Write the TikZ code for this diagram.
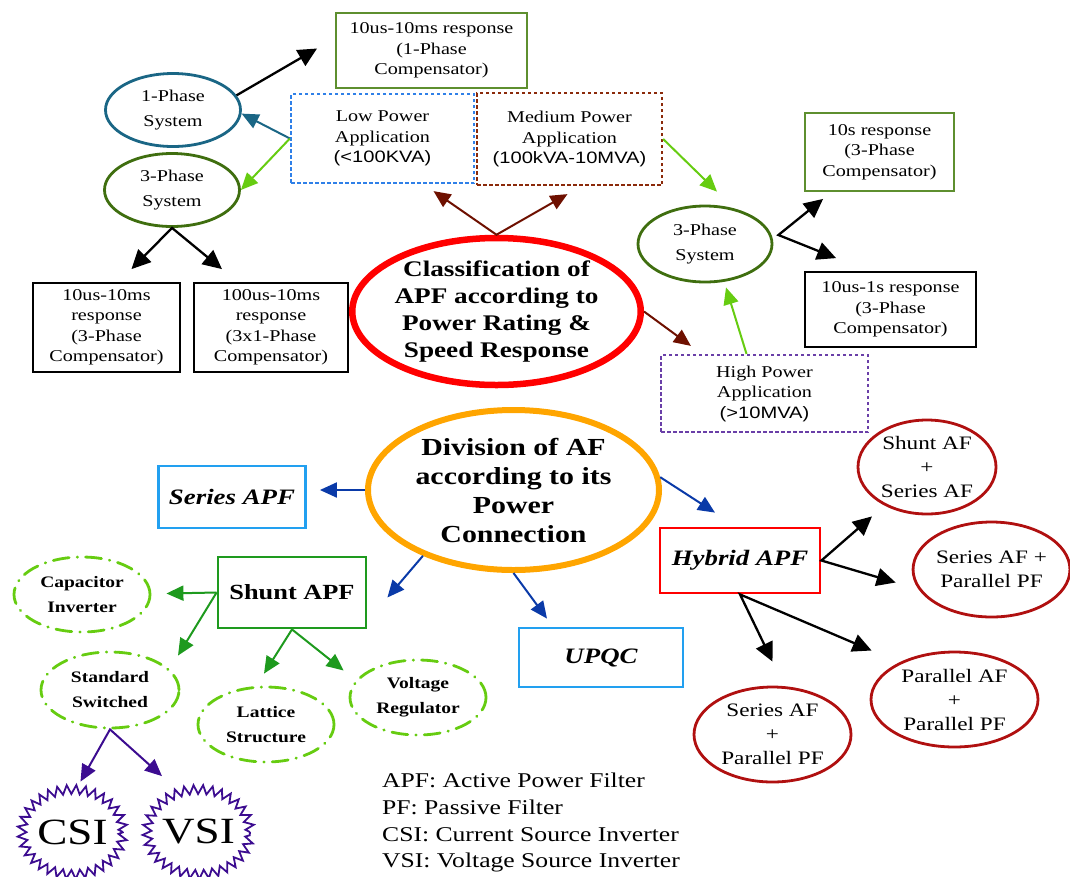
\documentclass[tikz,border=0pt]{standalone}
\usepackage{fontspec}
\setmainfont{Liberation Serif}[FakeStretch=1.22]
\setsansfont{Liberation Sans}[FakeStretch=1.22]
\usetikzlibrary{shapes.geometric,arrows.meta,decorations.pathmorphing,calc}
\definecolor{boxgreen}{HTML}{5E8F2F}
\definecolor{tealb}{HTML}{1A6685}
\definecolor{dkgreen}{HTML}{3F6E0F}
\definecolor{ltgreen}{HTML}{66CC11}
\definecolor{lowblue}{HTML}{2F80E8}
\definecolor{medbrown}{HTML}{8B2A0A}
\definecolor{purpleb}{HTML}{6A3FA8}
\definecolor{arrbrown}{HTML}{6E1000}
\definecolor{clsred}{HTML}{FF0000}
\definecolor{divorange}{HTML}{FFA500}
\definecolor{arrblue}{HTML}{0A3AA8}
\definecolor{skyblue}{HTML}{22A0F0}
\definecolor{shgreen}{HTML}{1E9A1E}
\definecolor{dred}{HTML}{B01010}
\definecolor{indigob}{HTML}{3C0C90}
\begin{document}
\begin{tikzpicture}[x=1pt,y=-1pt,
  small/.style={font=\fontsize{16.5}{20.5}\selectfont, align=center, inner sep=0pt},
  rbox/.style={small, rectangle, draw, line width=1.8pt},
  dotbox/.style={small, rectangle, draw, line width=2.2pt, dash pattern=on 3.5pt off 2.5pt},
  phell/.style={ellipse, draw, line width=2.8pt, inner sep=0pt, align=center, font=\fontsize{16.5}{25}\selectfont},
  bigbox/.style={rectangle, draw, line width=2.8pt, inner sep=0pt, font=\fontsize{22}{26}\selectfont\bfseries\itshape},
  dashell/.style={ellipse, draw=ltgreen, line width=2.8pt, line cap=round, dash pattern=on 16pt off 8pt on 0.5pt off 8pt, inner sep=0pt, align=center, font=\fontsize{16}{25}\selectfont\bfseries, minimum width=136pt, minimum height=75pt},
  redell/.style={ellipse, draw=dred, line width=2.8pt, inner sep=0pt, align=center, font=\fontsize{19}{24}\selectfont},
  zig/.style={ellipse, draw=indigob, line width=1.8pt, decorate, decoration={zigzag, segment length=9pt, amplitude=4.5pt}, inner sep=0pt, minimum width=101pt, minimum height=85pt, font=\fontsize{37}{40}\selectfont},
  legend/.style={anchor=base west, inner sep=0pt, font=\fontsize{21}{27}\selectfont},
  arrK/.style={-{Triangle[length=19pt,width=18pt]}, line width=2.3pt, black},
  arrKK/.style={{Triangle[length=19pt,width=18pt]}-{Triangle[length=19pt,width=18pt]}, line width=2.3pt, black, line join=miter},
  arrC/.style={-{Triangle[length=17pt,width=15pt]}, line width=2pt},
  arrCC/.style={{Triangle[length=17pt,width=15pt]}-{Triangle[length=17pt,width=15pt]}, line width=2pt, line join=miter}
]
\useasboundingbox (0,0) rectangle (1070,876);

% ---------- top part ----------
\node[rbox, draw=boxgreen, minimum width=191pt, minimum height=75pt] (box1) at (431.5,50.5) {10us-10ms response\\(1-Phase\\Compensator)};
\node[phell, draw=tealb, minimum width=135pt, minimum height=73pt] (ph1) at (173,110) {1-Phase\\System};
\node[phell, draw=dkgreen, minimum width=135pt, minimum height=73pt] (ph3) at (172,190) {3-Phase\\System};
\node[dotbox, draw=lowblue, minimum width=183pt, minimum height=89pt] (lowp) at (382.5,138.5) {Low Power\\Application\\{\sffamily(<100KVA)}};
\node[dotbox, draw=medbrown, minimum width=185pt, minimum height=92pt] (medp) at (569.5,139) {Medium Power\\Application\\{\sffamily(100kVA-10MVA)}};
\node[rbox, minimum width=147pt, minimum height=89pt] (boxA) at (106.5,327.5) {10us-10ms\\response\\(3-Phase\\Compensator)};
\node[rbox, minimum width=154pt, minimum height=89pt] (boxB) at (271,327.5) {100us-10ms\\response\\(3x1-Phase\\Compensator)};
\node[ellipse, draw=clsred, line width=6.5pt, inner sep=0pt, minimum width=271pt, minimum height=147pt, align=center, font=\fontsize{22.3}{26.7}\selectfont\bfseries] (cls) at (496.5,311.5) {Classification of\\APF according to\\Power Rating \&\\Speed Response};
\node[phell, draw=dkgreen, minimum width=134pt, minimum height=76pt] (ph3r) at (705,244) {3-Phase\\System};
\node[rbox, draw=boxgreen, minimum width=149pt, minimum height=78pt] (box10s) at (879.5,152) {10s response\\(3-Phase\\Compensator)};
\node[rbox, minimum width=171pt, minimum height=75pt] (box10us) at (890.5,309.5) {10us-1s response\\(3-Phase\\Compensator)};
\node[dotbox, draw=purpleb, minimum width=207pt, minimum height=77pt] (highp) at (764.5,393.5) {High Power\\Application\\{\sffamily(>10MVA)}};

% ---------- bottom part ----------
\node[ellipse, draw=divorange, line width=6pt, inner sep=0pt, minimum width=291pt, minimum height=160pt, align=center, font=\fontsize{24.5}{29}\selectfont\bfseries] (div) at (513.5,490) {Division of AF\\according to its\\Power\\Connection};
\node[bigbox, draw=skyblue, minimum width=147pt, minimum height=62pt] (series) at (232,497) {Series APF};
\node[bigbox, draw=shgreen, minimum width=148pt, minimum height=71pt, font=\fontsize{21.6}{26}\selectfont\bfseries] (shunt) at (292,592.5) {Shunt APF};
\node[bigbox, draw=skyblue, minimum width=164pt, minimum height=59pt] (upqc) at (601,657.5) {UPQC};
\node[bigbox, draw=clsred, minimum width=160pt, minimum height=65pt] (hybrid) at (740,560.5) {Hybrid APF};
\node[dashell] (cap) at (82,594.5) {Capacitor\\Inverter};
\node[dashell, minimum width=138pt, minimum height=76pt] (std) at (110,690) {Standard\\Switched};
\node[dashell] (lattice) at (266,724.5) {Lattice\\Structure};
\node[dashell] (volt) at (418,697.5) {Voltage\\Regulator};
\node[zig] (csi) at (72.5,832) {CSI};
\node[zig] (vsi) at (198.5,832) {VSI};
\node[redell, minimum width=138pt, minimum height=94pt] (sa1) at (927,467) {Shunt AF\\+\\Series AF};
\node[redell, minimum width=155pt, minimum height=95pt] (sp1) at (991.5,569.5) {Series AF +\\Parallel PF};
\node[redell, minimum width=167pt, minimum height=95pt] (pp) at (954.5,699.5) {Parallel AF\\+\\Parallel PF};
\node[redell, minimum width=157pt, minimum height=95pt] (sp2) at (772.5,734.5) {Series AF\\+\\Parallel PF};

\node[legend] (leg1) at (382,787) {APF: Active Power Filter};
\node[legend] (leg2) at (382,814) {PF: Passive Filter};
\node[legend] (leg3) at (382,841) {CSI: Current Source Inverter};
\node[legend] (leg4) at (382,867) {VSI: Voltage Source Inverter};

% ---------- connectors ----------
\draw[arrK] (ph1.13) -- ($(box1.west)+(-18,-2)$);
\draw[arrC, tealb] (lowp.west) -- (ph1.-3);
\draw[arrC, ltgreen] (lowp.west) -- (ph3.east);
\draw[arrKK] ($(boxA.north)+(25,-13)$) -- (ph3.south) -- ($(boxB.north)+(-49,-13)$);
\draw[arrCC, arrbrown] ($(lowp.south)+(51,7)$) -- (cls.north) -- ($(medp.south)+(-2,8)$);
\draw[arrC, ltgreen] (medp.east) -- ($(ph3r.north)+(12,-13)$);
\draw[arrC, arrbrown] (cls.east) -- ($(highp.north west)+(31,-8)$);
\draw[arrC, ltgreen] ($(highp.north)+(-18,0)$) -- ($(ph3r.south)+(21,4)$);
\coordinate (v3) at ($(ph3r.east)+(5,-9)$);
\draw[arrKK] ($(box10s.south west)+(19,7)$) -- (v3) -- ($(box10us.north west)+(32,-13)$);

\draw[arrC, arrblue] (div.west) -- ($(series.east)+(13,-7)$);
\draw[arrC, arrblue] (div.216) -- ($(shunt.east)+(20,5)$);
\draw[arrC, arrblue] (div.south) -- ($(upqc.north)+(-54,-8)$);
\draw[arrC, arrblue] (div.5) -- ($(hybrid.north)+(-25,-14)$);

\draw[arrC, shgreen] (shunt.west) -- ($(cap.east)+(15,-1)$);
\draw[arrC, shgreen] (shunt.west) -- ($(std.north)+(68,5)$);
\draw[arrCC, shgreen] ($(lattice.north)+(-2,-12)$) -- (shunt.south) -- ($(volt.west)+(-5,-27)$);
\draw[arrCC, indigob] ($(csi.north)+(8,-7)$) -- (std.south) -- ($(vsi.north)+(-36.5,-12.5)$);

\draw[arrKK] ($(sa1.south)+(-55,1)$) -- (hybrid.east) -- ($(sp1.west)+(-16,13)$);
\draw[arrKK] ($(sp2.north)+(0,-24)$) -- (hybrid.south) -- ($(pp.west)+(2,-49)$);
\end{tikzpicture}
\end{document}
